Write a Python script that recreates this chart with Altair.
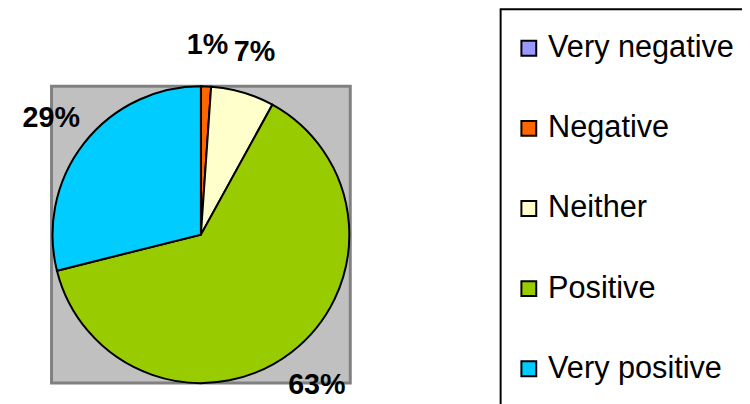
import altair as alt
import pandas as pd

categories = ["Very negative", "Negative", "Neither", "Positive", "Very positive"]
values = [0.0, 1.1, 6.9, 63.1, 28.9]
labels = ["", "1%", "7%", "63%", "29%"]
colors = ["#9999FF", "#FF6600", "#FFFFCC", "#99CC00", "#00CCFF"]

df = pd.DataFrame({
    "category": categories,
    "value": values,
    "label": labels,
    "idx": list(range(len(categories))),
})

# plot-area background (gray square with darker border)
bg = alt.Chart(pd.DataFrame({"a": [0]})).mark_rect(
    fill="#C0C0C0", stroke="#808080", strokeWidth=3
).encode(
    x=alt.value(0), x2=alt.value("width"),
    y=alt.value(0), y2=alt.value("height"),
)

base = alt.Chart(df).encode(
    theta=alt.Theta("value:Q", stack=True),
    order=alt.Order("idx:Q"),
)

pie = base.mark_arc(outerRadius=150, stroke="black", strokeWidth=2).encode(
    color=alt.Color(
        "category:N",
        scale=alt.Scale(domain=categories, range=colors),
        sort=categories,
        legend=alt.Legend(
            title=None,
            orient="none",
            legendX=454,
            legendY=-78,
            direction="vertical",
            symbolType="square",
            symbolSize=225,
            symbolStrokeColor="black",
            symbolStrokeWidth=2,
            symbolOpacity=1,
            symbolOffset=-11,
            labelFont="Liberation Sans",
            labelFontSize=31,
            labelColor="black",
            labelOffset=4,
            labelLimit=400,
            rowPadding=49,
            padding=24,
            strokeColor="black",
            fillColor="white",
        ),
    )
)

text = base.mark_text(
    radius=192,
    font="Liberation Sans",
    fontSize=29,
    fontWeight="bold",
    color="black",
).encode(text="label:N")

chart = (
    alt.layer(bg, pie, text)
    .properties(
        width=302,
        height=300,
        autosize=alt.AutoSizeParams(type="none"),
        padding={"left": 44, "top": 77, "right": 396, "bottom": 19},
        background="white",
    )
    .configure_view(stroke=None)
    .configure_legend(strokeWidth=2)
)

chart.save("out.html", embed_options={"renderer": "svg", "actions": False})
